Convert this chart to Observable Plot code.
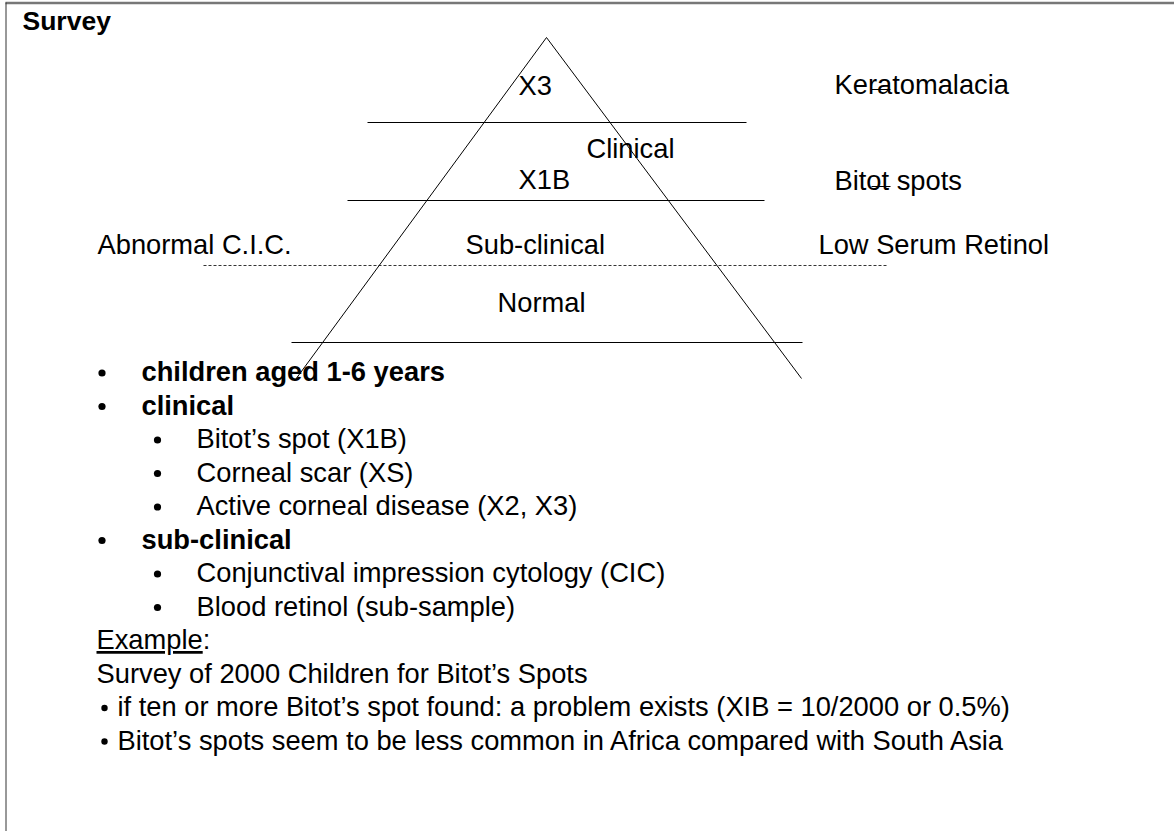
<!DOCTYPE html>
<html>
<head>
<meta charset="utf-8">
<script src="https://cdn.jsdelivr.net/npm/d3@7"></script>
<script src="https://cdn.jsdelivr.net/npm/@observablehq/plot@0.6"></script>
<style>
  html, body { margin: 0; padding: 0; background: #fff; }
  #chart svg { display: block; background: #fff; }
</style>
</head>
<body>
<div id="chart"></div>
<script>
// ---- content ----
const title = "Survey";
const pyramidLabels = ["X3", "Clinical", "X1B", "Sub-clinical", "Normal"];
const sideLabels = ["Keratomalacia", "Bitot spots", "Abnormal C.I.C.", "Low Serum Retinol"];
const listText = [
  "children aged 1-6 years",
  "clinical",
  "Bitot’s spot (X1B)",
  "Corneal scar (XS)",
  "Active corneal disease (X2, X3)",
  "sub-clinical",
  "Conjunctival impression cytology (CIC)",
  "Blood retinol (sub-sample)",
  "Example:",
  "Survey of 2000 Children for Bitot’s Spots",
  "if ten or more Bitot’s spot found: a problem exists (XIB = 10/2000 or 0.5%)",
  "Bitot’s spots seem to be less common in Africa compared with South Asia"
];
// list level of each row: 0 plain, 1 bold bullet, 2 sub bullet, 3 small bullet
const listLevel = [1, 1, 2, 2, 2, 1, 2, 2, 0, 0, 3, 3];

// ---- layout (diagram geometry) ----
const pyramidSides = [
  {x1: 546, y1: 37, x2: 295, y2: 379},
  {x1: 546, y1: 37, x2: 801, y2: 378}
];
const levelLines = [
  {x1: 367, y1: 122, x2: 746, y2: 122},
  {x1: 347, y1: 200, x2: 764, y2: 200},
  {x1: 291, y1: 342, x2: 802, y2: 342}
];
const dashedLine = [{x1: 203, y1: 265, x2: 888, y2: 265}];
const strayMarks = [
  {x1: 871, y1: 89, x2: 890, y2: 89},
  {x1: 871, y1: 186, x2: 890, y2: 186}
];
const frame = [
  {x1: 5, y1: 2.5, x2: 1174, y2: 2.5, w: 2.5, c: "#777"},
  {x1: 5.5, y1: 2, x2: 5.5, y2: 831, w: 1, c: "#333"}
];
const pyramidPos = [[518, 94], [586, 157], [518, 188], [465, 253], [497, 311]];
const sidePos = [[834, 93], [834, 189], [97, 253], [818, 253]];

const listTop = 380.5, lineStep = 33.5;
const textX = {0: 96, 1: 141, 2: 196, 3: 117};
const bulletX = {1: 101.5, 2: 157, 3: 104};

const FONT = "'Liberation Sans', Arial, Helvetica, sans-serif";
const FS = 27.3;

const labels = [
  ...pyramidLabels.map((t, i) => ({text: t, x: pyramidPos[i][0], y: pyramidPos[i][1], bold: false})),
  ...sideLabels.map((t, i) => ({text: t, x: sidePos[i][0], y: sidePos[i][1], bold: false})),
  ...listText.map((t, i) => ({text: t, x: textX[listLevel[i]], y: listTop + i * lineStep, bold: listLevel[i] === 1}))
];
const bullets = listText.map((t, i) => ({lvl: listLevel[i], x: bulletX[listLevel[i]], y: listTop + i * lineStep - 8}))
  .filter(d => d.lvl > 0);

const plot = Plot.plot({
  width: 1174,
  height: 831,
  margin: 0,
  x: {domain: [0, 1174], range: [0, 1174], axis: null},
  y: {domain: [0, 831], range: [0, 831], axis: null},
  marks: [
    Plot.link(frame, {x1: "x1", y1: "y1", x2: "x2", y2: "y2", stroke: d => d.c, strokeWidth: d => d.w}),
    Plot.link(dashedLine, {x1: "x1", y1: "y1", x2: "x2", y2: "y2", stroke: "#333", strokeWidth: 1, strokeDasharray: "3,2"}),
    Plot.link(pyramidSides, {x1: "x1", y1: "y1", x2: "x2", y2: "y2", stroke: "#000", strokeWidth: 1}),
    Plot.link(levelLines, {x1: "x1", y1: "y1", x2: "x2", y2: "y2", stroke: "#000", strokeWidth: 1}),
    Plot.link(strayMarks, {x1: "x1", y1: "y1", x2: "x2", y2: "y2", stroke: "#000", strokeWidth: 1}),
    Plot.text(labels.filter(d => !d.bold), {x: "x", y: "y", text: "text", textAnchor: "start", lineAnchor: "bottom",
      fontSize: FS, fontFamily: FONT, fill: "#000"}),
    Plot.text(labels.filter(d => d.bold), {x: "x", y: "y", text: "text", textAnchor: "start", lineAnchor: "bottom",
      fontSize: FS, fontFamily: FONT, fontWeight: "bold", fill: "#000"}),
    Plot.text([title], {x: 22, y: 29, text: d => d, textAnchor: "start", lineAnchor: "bottom",
      fontSize: 26.5, fontFamily: FONT, fontWeight: "bold", fill: "#000"}),
    Plot.dot(bullets.filter(d => d.lvl < 3), {x: "x", y: "y", r: 3.6, fill: "#000", stroke: null}),
    Plot.dot(bullets.filter(d => d.lvl === 3), {x: "x", y: "y", r: 3.2, fill: "#000", stroke: null})
  ]
});

document.getElementById("chart").appendChild(plot);

// underline "Example" (the colon is not underlined)
d3.select(plot).selectAll("text").filter(function () { return this.textContent === "Example:"; })
  .each(function () {
    const t = d3.select(this);
    t.text(null);
    t.append("tspan").attr("text-decoration", "underline").style("text-decoration", "underline").text("Example");
    t.append("tspan").text(":");
  });
</script>
</body>
</html>
